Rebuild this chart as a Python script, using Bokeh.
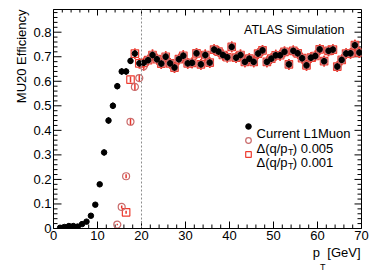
from bokeh.plotting import figure
from bokeh.models import (ColumnDataSource, Range1d, LinearAxis, FixedTicker, Span, Label,
                          Legend, LegendItem, Title)
from bokeh.embed import file_html
from bokeh.resources import INLINE

# ---------------- data ----------------
pt_bins = [1.5, 2.5, 3.5, 4.5, 5.5, 6.5, 7.5, 8.5, 9.5, 10.5, 11.5, 12.5, 13.5, 14.5, 15.5,
           16.5, 17.5, 18.5, 19.5, 20.5, 21.5, 22.5, 23.5, 24.5, 25.5, 26.5, 27.5, 28.5, 29.5,
           30.5, 31.5, 32.5, 33.5, 34.5, 35.5, 36.5, 37.5, 38.5, 39.5, 40.5, 41.5, 42.5, 43.5,
           44.5, 45.5, 46.5, 47.5, 48.5, 49.5, 50.5, 51.5, 52.5, 53.5, 54.5, 55.5, 56.5, 57.5,
           58.5, 59.5, 60.5, 61.5, 62.5, 63.5, 64.5, 65.5, 66.5, 67.5, 68.5, 69.5]

eff_l1muon = [0.003, 0.006, 0.010, 0.010, 0.008, 0.018, 0.028, 0.052, 0.097, 0.180, 0.310,
              0.440, 0.500, 0.580, 0.640, 0.640, 0.683, 0.713, 0.673, 0.675, 0.686, 0.707,
              0.690, 0.672, 0.700, 0.673, 0.656, 0.690, 0.704, 0.673, 0.675, 0.714, 0.669,
              0.707, 0.676, 0.729, 0.721, 0.707, 0.698, 0.740, 0.696, 0.707, 0.679, 0.692,
              0.679, 0.713, 0.726, 0.679, 0.692, 0.706, 0.706, 0.720, 0.669, 0.724, 0.714,
              0.694, 0.665, 0.696, 0.703, 0.730, 0.682, 0.724, 0.729, 0.660, 0.687, 0.713,
              0.714, 0.747, 0.717]
err_l1muon = [0.002, 0.002, 0.003, 0.003, 0.003, 0.004, 0.005, 0.006, 0.008, 0.010, 0.012,
              0.013, 0.013, 0.013, 0.013, 0.013, 0.013] + [0.013] * 52

# Delta(q/pT) 0.005 : open circles (coincide with the black points above 21 GeV)
pt_d005 = pt_bins[13:]
eff_d005 = [0.016, 0.088, 0.213, 0.435, 0.577, 0.613, 0.661] + eff_l1muon[20:]
err_d005 = [0.003, 0.006, 0.008, 0.014, 0.015, 0.016, 0.018] + [0.022] * 49

# Delta(q/pT) 0.001 : open squares (coincide with the black points above 18 GeV)
pt_d001 = pt_bins[15:]
eff_d001 = [0.066, 0.607] + eff_l1muon[17:]
err_d001 = [0.006, 0.012] + [0.022] * 52

x_major = [0, 10, 20, 30, 40, 50, 60, 70]
y_major = [0.0, 0.1, 0.2, 0.3, 0.4, 0.5, 0.6, 0.7, 0.8]
y_labels = {0.0: "0", 0.1: "0.1", 0.2: "0.2", 0.3: "0.3", 0.4: "0.4", 0.5: "0.5",
            0.6: "0.6", 0.7: "0.7", 0.8: "0.8"}
x_minor = [v * 2 for v in range(36) if (v * 2) % 10 != 0]
y_minor = [round(v * 0.02, 2) for v in range(45) if v % 5 != 0]
threshold = 20

# ---------------- styles ----------------
FONT = "Liberation Sans"
C_CIRC = "#c96a6a"
C_SQ = "#ee3c30"
C_ERR = "#e8352c"
X0, X1, Y0, Y1 = 0, 70, 0, 0.8925
PX_X = (X1 - X0) / 308.0      # data units per pixel, horizontal
PX_Y = (Y1 - Y0) / 219.0      # data units per pixel, vertical


def with_err(x, y, e):
    return ColumnDataSource(dict(x=x, y=y, lo=[a - b for a, b in zip(y, e)],
                                 hi=[a + b for a, b in zip(y, e)]))


src_l1 = with_err(pt_bins, eff_l1muon, err_l1muon)
src_c = with_err(pt_d005, eff_d005, err_d005)
src_s = with_err(pt_d001, eff_d001, err_d001)

p = figure(width=374, height=271, output_backend="svg", toolbar_location=None,
           x_range=Range1d(X0, X1), y_range=Range1d(Y0, Y1),
           min_border_left=53, min_border_right=13, min_border_top=9, min_border_bottom=43,
           x_axis_location=None, y_axis_location=None)
p.grid.visible = False
p.outline_line_color = "black"
p.outline_line_width = 1
p.background_fill_color = None
p.border_fill_color = "white"


def style_axis(ax):
    ax.major_tick_in = 0
    ax.major_tick_out = 0
    ax.minor_tick_in = 0
    ax.minor_tick_out = 0
    ax.axis_line_color = "black"
    ax.major_label_text_font = FONT
    ax.major_label_text_color = "black"
    ax.major_label_text_font_size = "13px"
    ax.major_label_standoff = 2


xb = LinearAxis(ticker=FixedTicker(ticks=x_major))
style_axis(xb)
xb.major_label_overrides = {v: str(v) for v in x_major}
yl = LinearAxis(ticker=FixedTicker(ticks=y_major))
style_axis(yl)
yl.major_label_overrides = y_labels
p.add_layout(xb, "below")
p.add_layout(yl, "left")

# axis titles (ROOT style: aligned to the end of the axis)
p.add_layout(Title(text="MU20 Efficiency", align="right", text_font=FONT,
                   text_font_size="13px", text_font_style="normal", text_color="black",
                   standoff=3), "left")
p.add_layout(Title(text="p\u00a0\u00a0[GeV]", align="right", offset=1, text_font=FONT,
                   text_font_size="13px", text_font_style="normal", text_color="black",
                   standoff=0), "below")
p.add_layout(Title(text="T", align="right", offset=36, text_font=FONT,
                   text_font_size="9px", text_font_style="normal", text_color="black",
                   standoff=0), "below")

# inward ticks on all four sides (ROOT style)
def ticks_x(pos, length, at_top):
    y0 = [Y1 if at_top else Y0] * len(pos)
    y1 = [(Y1 - length * PX_Y) if at_top else (Y0 + length * PX_Y)] * len(pos)
    p.segment(x0=pos, y0=y0, x1=pos, y1=y1, line_color="black", line_width=1)


def ticks_y(pos, length, at_right):
    x0 = [X1 if at_right else X0] * len(pos)
    x1 = [(X1 - length * PX_X) if at_right else (X0 + length * PX_X)] * len(pos)
    p.segment(x0=x0, y0=pos, x1=x1, y1=pos, line_color="black", line_width=1)


ticks_x(x_major, 7, False)
ticks_x(x_minor, 4, False)
ticks_x(x_major, 6, True)
ticks_x(x_minor, 3, True)
ticks_y(y_major, 8, False)
ticks_y(y_minor, 4, False)
ticks_y(y_major, 7, True)
ticks_y(y_minor, 4, True)

p.add_layout(Span(location=threshold, dimension="height", line_color="#8c8c8c",
                  line_dash="2 2", line_width=1))

# error bars and markers
p.segment(x0="x", y0="lo", x1="x", y1="hi", source=src_c, line_color=C_ERR, line_width=1.5)
p.segment(x0="x", y0="lo", x1="x", y1="hi", source=src_s, line_color=C_ERR, line_width=1.5)
r_sq = p.scatter(x="x", y="y", source=src_s, marker="square", size=7.5,
                 fill_color=None, line_color=C_SQ, line_width=1.2)
r_ci = p.scatter(x="x", y="y", source=src_c, marker="circle", size=7,
                 fill_color=None, line_color=C_CIRC, line_width=1.2)
p.segment(x0="x", y0="lo", x1="x", y1="hi", source=src_l1, line_color="black", line_width=1.5)
r_l1 = p.scatter(x="x", y="y", source=src_l1, marker="circle", size=5.5,
                 fill_color="black", line_color="black")

legend = Legend(items=[LegendItem(label=" ", renderers=[r_l1]),
                       LegendItem(label=" ", renderers=[r_ci]),
                       LegendItem(label=" ", renderers=[r_sq])],
                location=(188, 67), glyph_width=14, glyph_height=14, label_height=14,
                label_width=1, spacing=0, padding=0, margin=0, label_standoff=0,
                label_text_font_size="10px", label_text_font=FONT,
                border_line_alpha=0, background_fill_alpha=0)
p.add_layout(legend, "center")


def lab(x, y, text, size="13px", align="left"):
    p.add_layout(Label(x=x, y=y, text=text, text_font=FONT, text_font_size=size,
                       text_align=align, text_baseline="alphabetic", text_color="black"))


lab(66.14, 0.807, "ATLAS Simulation", size="12.5px", align="right")
lab(46.14, 0.386, "Current L1Muon")
lab(46.14, 0.328, "\u0394(q/p")
lab(53.3, 0.328 - 0.0163, "T", size="9px")
lab(54.4, 0.328, ") 0.005")
lab(46.14, 0.270, "\u0394(q/p")
lab(53.3, 0.270 - 0.0163, "T", size="9px")
lab(54.4, 0.270, ") 0.001")

open("out.html", "w").write(file_html(p, INLINE))
